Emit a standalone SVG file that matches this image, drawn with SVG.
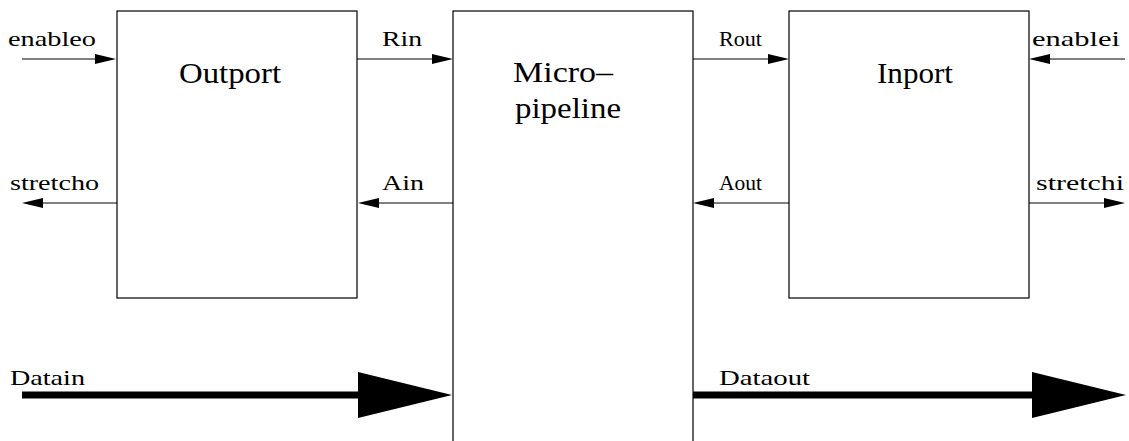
<svg xmlns="http://www.w3.org/2000/svg" width="1129" height="441" viewBox="0 0 1129 441">
<style>
.box{fill:#fff;stroke:#000;stroke-width:1.2}
.w{stroke:#000;stroke-width:1;fill:none}
.t{stroke:#000;stroke-width:7;fill:none}
text{font-family:"Liberation Serif","Times New Roman",serif;fill:#000}
.s{font-size:21px}
.b{font-size:29px}
</style>
<defs>
<marker id="ah" markerUnits="userSpaceOnUse" markerWidth="22" markerHeight="12" refX="0" refY="5" orient="auto" overflow="visible">
<path d="M0,0 L21,5 L0,10 z" fill="#000"/>
</marker>
<marker id="bh" markerUnits="userSpaceOnUse" markerWidth="95" markerHeight="47" refX="0" refY="23" orient="auto" overflow="visible">
<path d="M0,0 L94,23 L0,46 z" fill="#000"/>
</marker>
</defs>
<g id="outport">
<rect class="box" x="117" y="11" width="240" height="287"/>
<text class="b" x="179" y="83" textLength="102" lengthAdjust="spacingAndGlyphs">Outport</text>
</g>
<g id="micropipeline">
<rect class="box" x="453" y="11" width="240" height="445"/>
<text class="b" x="513" y="82" textLength="100" lengthAdjust="spacingAndGlyphs">Micro–</text>
<text class="b" x="515" y="118" textLength="106" lengthAdjust="spacingAndGlyphs">pipeline</text>
</g>
<g id="inport">
<rect class="box" x="789" y="11" width="240" height="287"/>
<text class="b" x="877" y="83" textLength="76" lengthAdjust="spacingAndGlyphs">Inport</text>
</g>
<g id="connectors">
<path class="w" d="M22,59 H95" marker-end="url(#ah)"/>
<path class="w" d="M357,59 H432" marker-end="url(#ah)"/>
<path class="w" d="M693,59 H768" marker-end="url(#ah)"/>
<path class="w" d="M1125,59 H1050" marker-end="url(#ah)"/>
<path class="w" d="M117,203 H43" marker-end="url(#ah)"/>
<path class="w" d="M453,203 H379" marker-end="url(#ah)"/>
<path class="w" d="M789,203 H714" marker-end="url(#ah)"/>
<path class="w" d="M1029,203 H1104" marker-end="url(#ah)"/>
<path class="t" d="M22,395 H358" marker-end="url(#bh)"/>
<path class="t" d="M693,395 H1032" marker-end="url(#bh)"/>
<text class="s" x="8" y="46" textLength="88" lengthAdjust="spacingAndGlyphs">enableo</text>
<text class="s" x="382" y="46" textLength="40" lengthAdjust="spacingAndGlyphs">Rin</text>
<text class="s" x="719" y="46" textLength="43" lengthAdjust="spacingAndGlyphs">Rout</text>
<text class="s" x="1032" y="46" textLength="88" lengthAdjust="spacingAndGlyphs">enablei</text>
<text class="s" x="10" y="190" textLength="89" lengthAdjust="spacingAndGlyphs">stretcho</text>
<text class="s" x="382" y="190" textLength="42" lengthAdjust="spacingAndGlyphs">Ain</text>
<text class="s" x="719" y="190" textLength="43" lengthAdjust="spacingAndGlyphs">Aout</text>
<text class="s" x="1036" y="190" textLength="88" lengthAdjust="spacingAndGlyphs">stretchi</text>
<text class="s" x="10" y="385" textLength="75" lengthAdjust="spacingAndGlyphs">Datain</text>
<text class="s" x="719" y="385" textLength="91" lengthAdjust="spacingAndGlyphs">Dataout</text>
</g>
</svg>
